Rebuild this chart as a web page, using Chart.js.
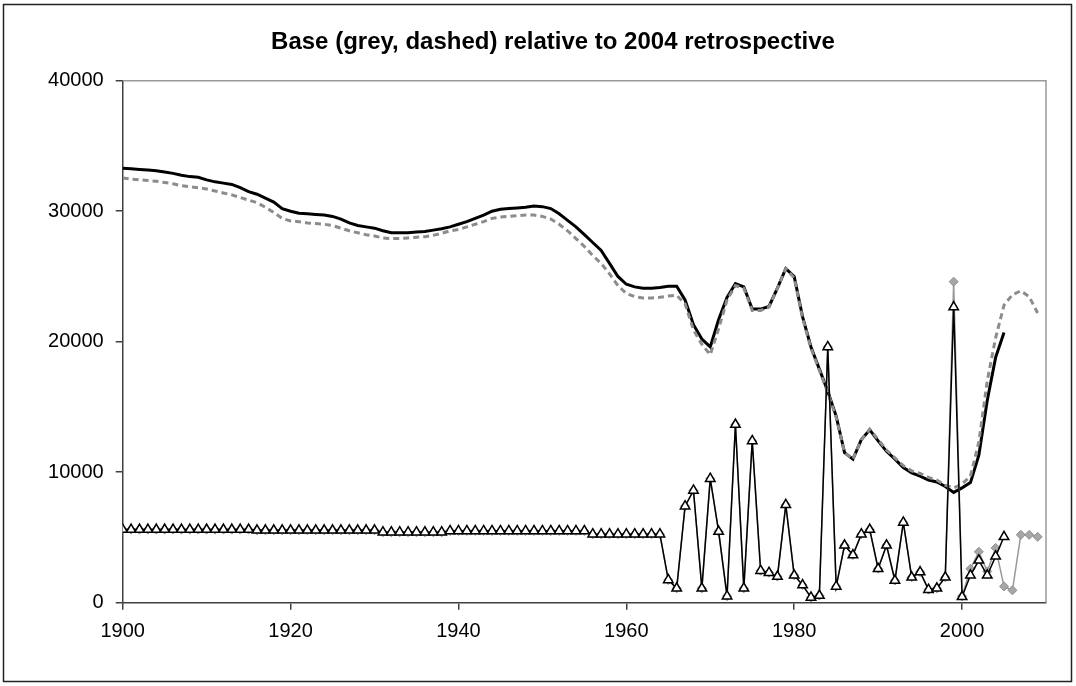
<!DOCTYPE html>
<html>
<head>
<meta charset="utf-8">
<script src="https://cdn.jsdelivr.net/npm/chart.js@4.4.1/dist/chart.umd.min.js"></script>
<style>
html,body{margin:0;padding:0;background:#fff;}
#wrap{position:absolute;left:0;top:0;width:1076px;height:686px;}
</style>
</head>
<body>
<div id="wrap"><canvas id="c" width="1076" height="686"></canvas></div>
<script>
// ---- Data ----
const title = 'Base (grey, dashed) relative to 2004 retrospective';
const years = Array.from({length: 110}, (_, i) => 1900 + i); // 1900..2009
const xTickLabels = [1900, 1920, 1940, 1960, 1980, 2000];
const yTickLabels = [0, 10000, 20000, 30000, 40000];

// 2004 retrospective (black solid line), 1900-2005
const retroLine = [
  33300,33250,33200,33150,33100,33000,32900,32750,32650,32600,
  32400,32250,32150,32050,31800,31500,31300,31000,30700,30200,
  30000,29850,29800,29750,29700,29600,29400,29100,28900,28800,
  28700,28500,28350,28350,28350,28400,28450,28550,28650,28800,
  29000,29200,29450,29700,30000,30150,30200,30250,30300,30400,
  30350,30200,29800,29300,28800,28200,27600,27000,26000,25000,
  24400,24200,24100,24100,24150,24250,24250,23200,21300,20200,
  19600,21700,23400,24450,24200,22500,22500,22700,24100,25600,
  25000,21900,19600,17900,16200,14300,11500,11000,12500,13250,
  12400,11600,11000,10350,9950,9700,9400,9250,8900,8450,
  8800,9200,11300,15500,18800,20700
];

// Base (grey dashed line), 1900-2009
const baseLine = [
  32550,32450,32400,32350,32300,32200,32100,31950,31880,31800,
  31700,31550,31400,31250,31050,30850,30650,30300,29900,29450,
  29250,29200,29100,29050,29000,28900,28700,28500,28350,28200,
  28100,27950,27900,27900,27950,28000,28050,28150,28300,28500,
  28600,28800,29000,29200,29450,29550,29600,29650,29700,29700,
  29600,29400,29000,28500,27900,27300,26600,26000,25200,24300,
  23700,23450,23350,23350,23400,23500,23550,22900,20900,19800,
  19000,21000,23200,24300,24100,22400,22400,22650,24100,25600,
  24900,21800,19500,17800,16100,14200,11500,11000,12500,13300,
  12500,11700,11100,10500,10100,9900,9600,9400,9000,8800,
  9100,9700,12300,17000,20300,22800,23600,23900,23450,22200
];

// 2004 retrospective (black line, white triangles), 1900-2005
const retroMarks = [
  5600,5600,5600,5600,5600,5600,5600,5600,5600,5600,
  5600,5600,5600,5600,5600,5600,5550,5550,5550,5550,
  5550,5550,5550,5550,5550,5550,5550,5550,5550,5550,
  5550,5400,5400,5400,5400,5400,5400,5400,5400,5500,
  5500,5500,5500,5500,5500,5500,5500,5500,5500,5500,
  5500,5500,5500,5500,5500,5500,5250,5250,5250,5250,
  5250,5250,5250,5250,5250,1740,1100,7400,8600,1100,
  9500,5450,500,13650,1100,12400,2450,2300,2000,7500,
  2100,1350,400,550,19600,1250,4400,3650,5250,5600,
  2600,4400,1700,6150,1950,2350,1000,1100,1950,22650,
  450,2100,3250,2100,3550,5050
];

// Base (grey line, grey diamonds), 1900-2009
const baseMarks = [
  5600,5600,5600,5600,5600,5600,5600,5600,5600,5600,
  5600,5600,5600,5600,5600,5600,5550,5550,5550,5550,
  5550,5550,5550,5550,5550,5550,5550,5550,5550,5550,
  5550,5400,5400,5400,5400,5400,5400,5400,5400,5500,
  5500,5500,5500,5500,5500,5500,5500,5500,5500,5500,
  5500,5500,5500,5500,5500,5500,5250,5250,5250,5250,
  5250,5250,5250,5250,5250,1740,1100,7400,8600,1100,
  9500,5450,500,13650,1100,12400,2450,2300,2000,7500,
  2100,1350,400,550,19600,1250,4400,3650,5250,5600,
  2600,4400,1700,6150,1950,2350,1000,1100,1950,24600,
  500,2600,3900,2400,4200,1250,950,5200,5200,5050
];

const pts = arr => arr.map((v, i) => ({x: years[i], y: v}));

const framePlugin = {
  id: 'frame',
  beforeDraw(chart) {
    const ctx = chart.ctx;
    ctx.save();
    ctx.fillStyle = '#fff';
    ctx.fillRect(0, 0, chart.width, chart.height);
    ctx.restore();
  },
  beforeDatasetsDraw(chart) {
    const {ctx, chartArea: a} = chart;
    ctx.save();
    ctx.strokeStyle = '#9a9a9a';
    ctx.lineWidth = 1.5;
    ctx.beginPath();
    ctx.moveTo(a.left, a.top);
    ctx.lineTo(a.right, a.top);
    ctx.lineTo(a.right, a.bottom);
    ctx.stroke();
    ctx.restore();
  },
  afterDraw(chart) {
    const ctx = chart.ctx;
    ctx.save();
    // chart title
    ctx.fillStyle = '#000';
    ctx.font = 'bold 24px "Liberation Sans", Arial, sans-serif';
    ctx.textAlign = 'center';
    ctx.textBaseline = 'middle';
    ctx.fillText(title, 553, 42);
    // outer frame
    ctx.strokeStyle = '#222';
    ctx.lineWidth = 1.5;
    ctx.strokeRect(3.5, 4.5, 1068, 677);
    ctx.restore();
  }
};

new Chart(document.getElementById('c'), {
  type: 'line',
  data: {
    datasets: [
      {
        label: 'Retrospective recruitment',
        data: pts(retroMarks),
        borderColor: '#000',
        borderWidth: 1.5,
        pointStyle: 'triangle',
        pointRadius: 5.5,
        pointBackgroundColor: '#fff',
        pointBorderColor: '#000',
        pointBorderWidth: 1.5,
        tension: 0
      },
      {
        label: 'Base recruitment',
        data: pts(baseMarks),
        borderColor: '#999',
        borderWidth: 1.5,
        pointStyle: 'rectRot',
        pointRadius: 4.5,
        pointBackgroundColor: '#a6a6a6',
        pointBorderColor: '#8f8f8f',
        pointBorderWidth: 1,
        tension: 0
      },
      {
        label: 'Base',
        data: pts(baseLine),
        borderColor: '#8c8c8c',
        borderWidth: 3,
        borderDash: [6, 4],
        pointRadius: 0,
        tension: 0
      },
      {
        label: 'Retrospective',
        data: pts(retroLine),
        borderColor: '#000',
        borderWidth: 3,
        pointRadius: 0,
        tension: 0
      }
    ]
  },
  options: {
    responsive: false,
    animation: false,
    layout: {padding: {left: 0, right: 30, top: 80.7, bottom: 0}},
    plugins: {
      legend: {display: false},
      tooltip: {enabled: false},
      title: {display: false}
    },
    scales: {
      x: {
        type: 'linear',
        min: 1900,
        max: 2010,
        afterBuildTicks: s => { s.ticks = xTickLabels.map(v => ({value: v})); },
        afterFit: s => { s.height = 83.3; },
        border: {display: true, color: '#404040', width: 1.5},
        grid: {display: true, drawOnChartArea: false, drawTicks: true, tickLength: 7, color: '#404040', lineWidth: 1.5},
        ticks: {
          color: '#000',
          padding: 10,
          maxRotation: 0,
          font: {family: '"Liberation Sans", Arial, sans-serif', size: 20},
          callback: v => String(v)
        }
      },
      y: {
        type: 'linear',
        min: 0,
        max: 40000,
        afterBuildTicks: s => { s.ticks = yTickLabels.map(v => ({value: v})); },
        afterFit: s => { s.width = 122.7; },
        border: {display: true, color: '#404040', width: 1.5},
        grid: {display: true, drawOnChartArea: false, drawTicks: true, tickLength: 7, color: '#404040', lineWidth: 1.5},
        ticks: {
          color: '#000',
          padding: 12,
          font: {family: '"Liberation Sans", Arial, sans-serif', size: 20},
          callback: v => String(v)
        }
      }
    }
  },
  plugins: [framePlugin]
});
</script>
</body>
</html>
